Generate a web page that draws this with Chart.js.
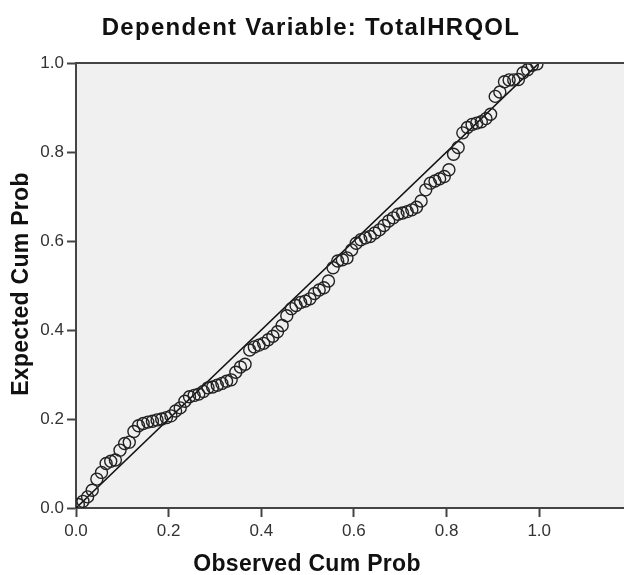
<!DOCTYPE html>
<html>
<head>
<meta charset="utf-8">
<script src="https://cdn.jsdelivr.net/npm/chart.js@4.4.1/dist/chart.umd.min.js"></script>
<style>
  html, body { margin: 0; padding: 0; background: #fff; }
  canvas { display: block; }
</style>
</head>
<body>
<canvas id="ppPlot" width="624" height="575"></canvas>
<script>
// P-P plot of regression standardized residual
const chartTitle = 'Dependent Variable: TotalHRQOL'
const xTitle = 'Observed Cum Prob'
const yTitle = 'Expected Cum Prob'

const observedProb = [
  0.005, 0.015, 0.025, 0.035, 0.045, 0.055, 0.065, 0.075, 0.085, 0.095,
  0.105, 0.115, 0.125, 0.135, 0.145, 0.155, 0.165, 0.175, 0.185, 0.195,
  0.205, 0.215, 0.225, 0.235, 0.245, 0.255, 0.265, 0.275, 0.285, 0.295,
  0.305, 0.315, 0.325, 0.335, 0.345, 0.355, 0.365, 0.375, 0.385, 0.395,
  0.405, 0.415, 0.425, 0.435, 0.445, 0.455, 0.465, 0.475, 0.485, 0.495,
  0.505, 0.515, 0.525, 0.535, 0.545, 0.555, 0.565, 0.575, 0.585, 0.595,
  0.605, 0.615, 0.625, 0.635, 0.645, 0.655, 0.665, 0.675, 0.685, 0.695,
  0.705, 0.715, 0.725, 0.735, 0.745, 0.755, 0.765, 0.775, 0.785, 0.795,
  0.805, 0.815, 0.825, 0.835, 0.845, 0.855, 0.865, 0.875, 0.885, 0.895,
  0.905, 0.915, 0.925, 0.935, 0.945, 0.955, 0.965, 0.975, 0.985, 0.995
]
const expectedProb = [
  0.008, 0.015, 0.025, 0.040, 0.065, 0.080, 0.100, 0.105, 0.108, 0.130,
  0.145, 0.148, 0.172, 0.185, 0.190, 0.193, 0.195, 0.198, 0.200, 0.203,
  0.207, 0.218, 0.225, 0.240, 0.250, 0.253, 0.256, 0.262, 0.270, 0.272,
  0.276, 0.280, 0.285, 0.288, 0.305, 0.317, 0.323, 0.355, 0.362, 0.366,
  0.370, 0.378, 0.386, 0.396, 0.410, 0.432, 0.448, 0.455, 0.462, 0.465,
  0.470, 0.482, 0.490, 0.495, 0.510, 0.540, 0.555, 0.558, 0.562, 0.580,
  0.595, 0.603, 0.607, 0.610, 0.618, 0.625, 0.635, 0.645, 0.652, 0.660,
  0.663, 0.666, 0.670, 0.676, 0.690, 0.715, 0.730, 0.735, 0.740, 0.745,
  0.760, 0.795, 0.810, 0.843, 0.855, 0.862, 0.865, 0.868, 0.875, 0.885,
  0.925, 0.935, 0.958, 0.962, 0.962, 0.963, 0.978, 0.985, 0.995, 0.998
]
const refLine = [0, 1]

const axisColor = '#444'
const font = 'Arial, "Liberation Sans", sans-serif'

const sprite = {
  id: 'spssFrame',
  beforeDraw (chart) {
    const { ctx, chartArea: a } = chart
    ctx.save()
    ctx.fillStyle = '#fff'
    ctx.fillRect(0, 0, chart.width, chart.height)
    ctx.fillStyle = '#f0f0f0'
    ctx.fillRect(a.left, a.top, a.right - a.left, a.bottom - a.top)
    ctx.restore()
  },
  afterDraw (chart) {
    const { ctx, chartArea: a } = chart
    ctx.save()
    ctx.strokeStyle = axisColor
    ctx.lineWidth = 2
    ctx.beginPath()
    ctx.moveTo(a.left, a.top)
    ctx.lineTo(a.right, a.top)
    ctx.stroke()

    ctx.fillStyle = '#111'
    ctx.textAlign = 'center'
    ctx.textBaseline = 'middle'
    ctx.font = 'bold 24px ' + font
    ctx.letterSpacing = '1.3px'
    ctx.fillText(chartTitle, 311, 28)
    ctx.font = 'bold 23px ' + font
    ctx.letterSpacing = '0.3px'
    ctx.fillText(xTitle, 307, 565)
    ctx.translate(22, 284)
    ctx.rotate(-Math.PI / 2)
    ctx.fillText(yTitle, 0, 0)
    ctx.restore()
  }
}

new Chart(document.getElementById('ppPlot'), {
  data: {
    datasets: [
      {
        type: 'scatter',
        data: observedProb.map((x, i) => ({ x, y: expectedProb[i] })),
        pointStyle: 'circle',
        pointRadius: 6,
        pointBackgroundColor: 'rgba(0,0,0,0)',
        pointBorderColor: '#222',
        pointBorderWidth: 1.4,
      },
      {
        type: 'line',
        data: refLine.map(v => ({ x: v, y: v })),
        borderColor: '#111',
        borderWidth: 1.6,
        pointRadius: 0,
      },
    ],
  },
  options: {
    responsive: false,
    animation: false,
    layout: { autoPadding: false, padding: { top: 63, left: 0, right: 0, bottom: 0 } },
    plugins: { legend: { display: false }, tooltip: { enabled: false } },
    scales: {
      x: {
        type: 'linear',
        min: 0,
        max: 1.183,
        afterFit: (s) => { s.height = 67 },
        border: { color: axisColor, width: 2 },
        grid: { drawOnChartArea: false, drawTicks: true, tickLength: 9, tickColor: axisColor, tickWidth: 2 },
        ticks: {
          stepSize: 0.2,
          includeBounds: false,
          padding: 4,
          color: '#333',
          font: { family: font, size: 17 },
          callback: v => v.toFixed(1),
        },
      },
      y: {
        type: 'linear',
        min: 0,
        max: 1,
        afterFit: (s) => { s.width = 76 },
        border: { color: axisColor, width: 2 },
        grid: { drawOnChartArea: false, drawTicks: true, tickLength: 9, tickColor: axisColor, tickWidth: 2 },
        ticks: {
          stepSize: 0.2,
          padding: 3,
          color: '#333',
          font: { family: font, size: 17 },
          callback: v => v.toFixed(1),
        },
      },
    },
  },
  plugins: [sprite],
})
</script>
</body>
</html>
